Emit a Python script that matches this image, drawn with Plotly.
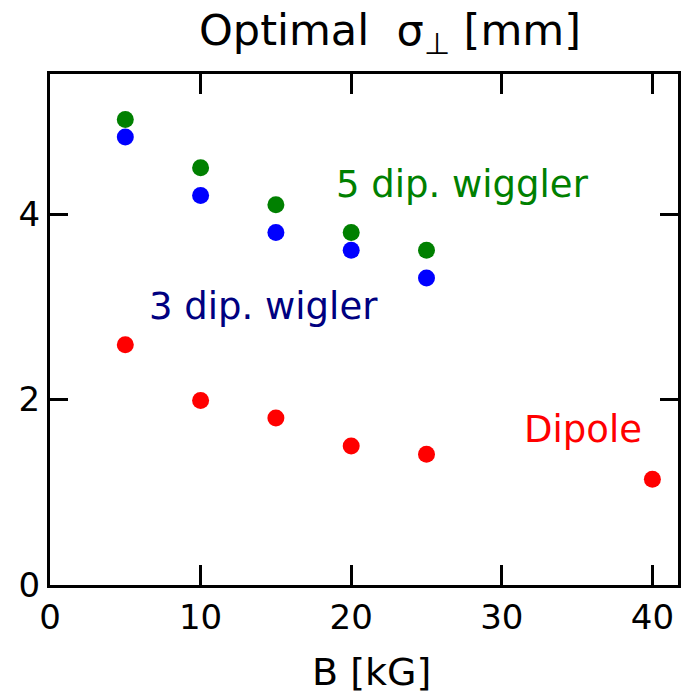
import plotly.graph_objects as go

B_wig = [5, 10, 15, 20, 25]
sigma_5dip = [5.02, 4.50, 4.10, 3.80, 3.61]
sigma_3dip = [4.83, 4.20, 3.80, 3.61, 3.31]
B_dip = [5, 10, 15, 20, 25, 40]
sigma_dip = [2.59, 1.99, 1.80, 1.50, 1.41, 1.14]

x_ticks = [0, 10, 20, 30, 40]
y_ticks = [0, 2, 4]

FONT = "DejaVu Sans"

fig = go.Figure()
fig.add_trace(go.Scatter(x=B_wig, y=sigma_5dip, mode="markers",
                         marker=dict(color="#008000", size=17, line=dict(width=0))))
fig.add_trace(go.Scatter(x=B_wig, y=sigma_3dip, mode="markers",
                         marker=dict(color="#0000ff", size=17, line=dict(width=0))))
fig.add_trace(go.Scatter(x=B_dip, y=sigma_dip, mode="markers",
                         marker=dict(color="#ff0000", size=17, line=dict(width=0))))

fig.add_annotation(x=27.4, y=4.32, text="5 dip. wiggler", showarrow=False,
                   font=dict(family=FONT, size=37, color="#008000"))
fig.add_annotation(x=14.16, y=3.0, text="3 dip. wigler", showarrow=False,
                   font=dict(family=FONT, size=37, color="#000080"))
fig.add_annotation(x=35.4, y=1.68, text="Dipole", showarrow=False,
                   font=dict(family=FONT, size=37, color="#ff0000"))

fig.add_annotation(x=392, y=33, text="Optimal  σ<sub>⊥</sub> [mm]",
                   showarrow=False, font=dict(family=FONT, size=43, color="#000000"))
fig.add_annotation(x=373, y=672, text="B [kG]", showarrow=False,
                   font=dict(family=FONT, size=38, color="#000000"))

W, H = 685, 695
L, R, T, Bm = 50, 4, 74, 110
pw, ph = W - L - R, H - T - Bm
# convert pixel-placed annotations (title & x-title) to paper coords
for a in fig.layout.annotations[3:]:
    px, py = a.x, a.y
    a.xref = "paper"; a.yref = "paper"
    a.x = (px - L) / pw
    a.y = (H - Bm - py) / ph
    a.xanchor = "center"; a.yanchor = "middle"

fig.update_layout(
    width=W, height=H,
    margin=dict(l=L, r=R, t=T, b=Bm, pad=0),
    plot_bgcolor="white", paper_bgcolor="white",
    showlegend=False,
    font=dict(family=FONT, size=34, color="black"),
)
fig.update_xaxes(range=[0, 41.7], tickvals=x_ticks, ticktext=[str(v) for v in x_ticks],
                 showgrid=False, zeroline=False, showline=True, linecolor="black",
                 linewidth=3, mirror="ticks", ticks="inside", ticklen=20, tickwidth=3,
                 tickcolor="black", tickfont=dict(family=FONT, size=34, color="black"))
fig.update_yaxes(range=[0, 5.51], tickvals=y_ticks, ticktext=[str(v) for v in y_ticks],
                 showgrid=False, zeroline=False, showline=True, linecolor="black",
                 linewidth=3, mirror="ticks", ticks="inside", ticklen=18, tickwidth=3,
                 tickcolor="black", tickfont=dict(family=FONT, size=34, color="black"))

fig.write_html("out.html")
